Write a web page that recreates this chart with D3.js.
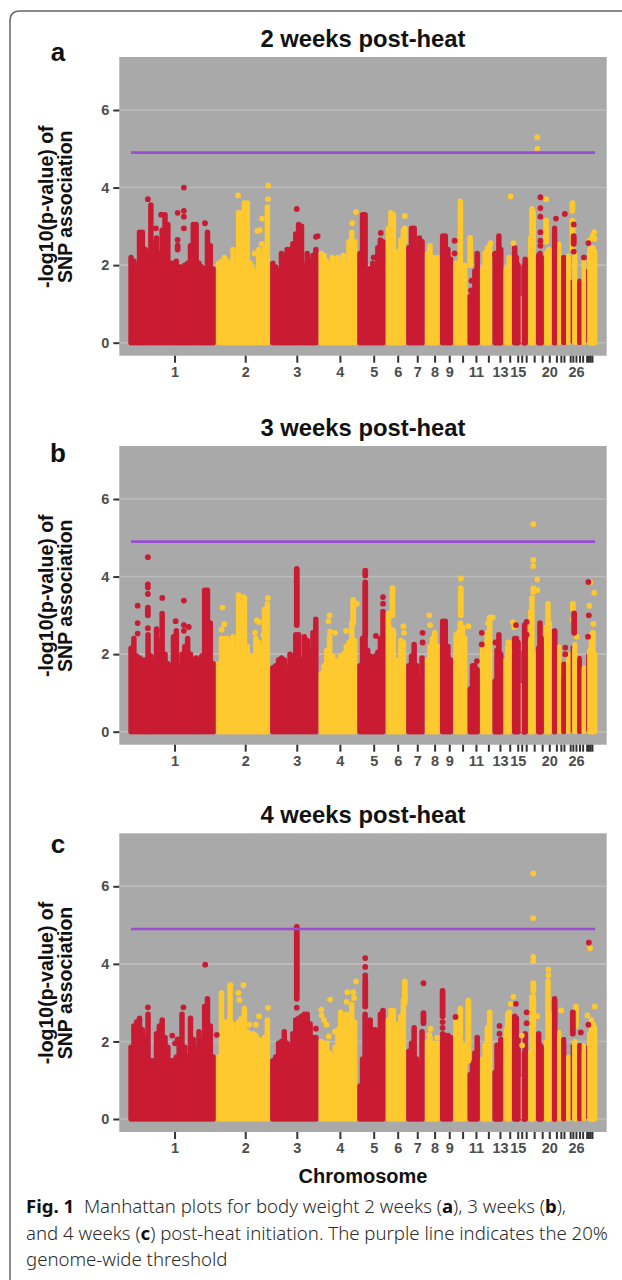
<!DOCTYPE html>
<html>
<head>
<meta charset="utf-8">
<script src="https://cdn.jsdelivr.net/npm/d3@7"></script>
<style>
  html, body { margin: 0; padding: 0; background: #fff; }
  svg { display: block; }
  text { font-family: "Liberation Sans", sans-serif; }
  .caption { font-family: "Noto Sans", sans-serif; font-size: 18.6px; font-weight: 300; fill: #2a2a2a; }
  .caption .strong { font-weight: 700; fill: #111; }
  .axis text { font-size: 14.5px; font-weight: 700; fill: #4d4d4d; }
  .axis line { stroke: #333; stroke-width: 2; }
  .axis path { display: none; }
</style>
</head>
<body>
<div id="chart"></div>
<script>
// genome position (about Mb) where each chromosome block ends, chr16 and chr29 are slivers
var chrEnds = [197,319,428,515,579,625,667,701,731,763,791,819,844,863,883,884,899,917,935,953,965,974,985,995,999,1010,1020,1030,1032,1055];
var tickPos = [104,263,379,476,552,606,650,689,722,752,782,810,836,858,876,885,895,913,931,947,963,973,980,994,1000,1007,1015,1022,1031,1035,1039,1043];
var tickLabels = ["1","2","3","4","5","6","7","8","9","","11","","13","","15","","","","","20","","","","","","26","","","","","",""];
var yTicks = [0,2,4,6];
var threshold = 4.9;
var thresholdSpan = [6,1050];

// top of the solid mass, read left to right per chromosome
var skyA = [
  [2.2,2.1,2.0,2.85,2.85,2.4,2.3,3.55,2.55,2.7,2.3,2.9,3.3,3.05,2.05,2.05,2.1,1.95,1.95,2.0,2.05,2.5,3.05,3.05,2.05,1.95,1.9,2.85,2.5,1.9],
  [2.05,2.1,2.2,2.1,2.05,2.4,1.95,3.35,3.35,3.6,3.6,2.05,1.9,1.7,2.4,2.25,2.45,3.5],
  [2.05,1.95,1.85,2.3,2.25,2.4,2.4,2.55,2.8,3.05,3.0,2.0,2.3,2.1,2.25,2.4],
  [2.3,2.25,2.1,2.0,2.2,1.95,2.2,2.0,2.25,2.0,2.6,2.85,2.6],
  [2.3,3.3,3.3,1.9,1.9,2.05,1.9,2.45,2.65,2.6],
  [2.95,3.35,3.3,2.0,2.35,2.65,2.9],
  [2.45,2.95,2.95,2.3,2.7,2.6],
  [2.3,2.5,2.2,1.85,2.2],
  [2.75,2.75,2.4,2.15],
  [2.05,2.05,3.65,2.0,2.0],
  [1.2,1.25,1.85,2.3],
  [1.9,2.3,2.45,2.5],
  [2.3,2.3,2.75,2.4],
  [1.9,1.9,2.2],
  [2.45,2.2,2.0],
  [],
  [1.95,2.0,2.15],
  [2.7,3.45,3.35],
  [2.25,2.3,2.2],
  [2.3,2.35,2.4],
  [2.95,2.6],
  [2.55,2.2],
  [2.2,2.2],
  [2.2,2.25],
  [1.6],
  [2.3,2.3],
  [1.55,1.6],
  [2.05,2.2],
  [],
  [2.4,2.45,2.45,2.35]
];
var skyB = [
  [2.15,2.4,1.95,1.9,1.85,1.85,2.5,1.95,1.85,2.65,2.35,3.05,2.0,1.75,1.7,2.45,2.6,1.7,2.0,2.2,2.4,2.0,1.85,1.9,1.85,1.95,3.65,3.65,2.8,1.75],
  [1.75,2.4,2.4,2.4,2.3,2.45,2.1,3.4,3.3,3.45,2.2,1.95,1.95,2.4,2.3,2.2,3.15,3.3],
  [1.65,1.7,1.85,1.9,1.85,1.65,2.0,1.95,2.5,2.5,1.85,2.45,2.35,2.1,2.55,2.9],
  [1.5,1.7,2.1,2.45,1.95,1.85,1.75,1.95,2.0,2.2,2.3,2.8,2.35],
  [1.7,2.4,2.45,2.1,1.95,1.9,1.95,2.05,2.4,3.1],
  [3.05,2.65,2.6,1.85,1.6,2.35,2.3],
  [1.7,1.95,2.25,1.7,1.35,1.9],
  [1.85,2.2,2.4,2.55,2.2],
  [2.85,2.85,2.2,1.85],
  [2.5,2.55,2.8,2.7,2.4],
  [1.1,1.7,1.7,1.6],
  [2.2,2.25,2.55,2.95],
  [1.3,2.1,2.5,2.0],
  [1.85,2.2,2.3],
  [2.4,2.4,2.3],
  [],
  [2.05,2.75,2.45],
  [3.1,3.45,2.0],
  [2.15,2.8,2.4],
  [2.7,3.3,2.8],
  [2.6,2.6],
  [2.2,2.2],
  [1.35,1.75],
  [2.0,2.0],
  [2.2],
  [2.25,2.1],
  [1.9,1.85],
  [1.65,1.65],
  [],
  [2.1,2.5,2.5,2.0]
];
var skyC = [
  [1.85,2.4,2.5,2.6,2.3,2.1,2.7,1.5,1.5,2.2,2.4,2.55,2.1,1.85,1.5,1.5,1.6,1.95,2.7,1.85,1.6,2.6,2.05,1.8,2.25,2.05,2.9,3.1,2.4,1.6],
  [1.6,3.25,2.5,2.5,3.45,2.45,2.15,2.5,2.6,2.85,2.25,2.2,2.2,2.15,2.05,2.0,2.1,2.55],
  [1.5,1.6,1.95,2.0,2.25,1.95,1.85,2.2,2.55,2.6,2.65,2.7,2.7,2.45,2.1,2.1],
  [2.0,1.9,1.95,1.7,1.6,1.85,2.3,2.75,2.65,2.7,2.5,2.95,2.5],
  [0.85,1.55,2.7,2.45,2.55,2.3,2.3,2.2,2.7,2.8],
  [2.55,2.8,2.8,2.3,2.45,2.65,3.07],
  [1.75,1.95,2.35,1.55,1.35,2.25],
  [2.0,2.1,1.9,1.95,1.95],
  [2.2,2.15,2.15,2.1],
  [2.55,2.55,2.85,1.85,1.9],
  [1.15,1.45,1.7,2.1],
  [1.55,1.9,2.35,2.75],
  [1.2,1.9,1.9,2.05],
  [2.3,2.7,2.75],
  [2.65,2.6,2.1],
  [],
  [1.1,1.7,2.2],
  [1.7,3.15,2.3],
  [2.2,1.9,1.85],
  [2.0,3.55,2.7],
  [3.1,3.05],
  [2.25,2.1],
  [2.05,2.05],
  [1.6,1.6],
  [1.9],
  [2.0,2.0],
  [1.9,1.9],
  [1.75,1.9],
  [],
  [2.2,2.55,2.45,2.35]
];

// separated points and runs above the mass: [pos, low, high], a lone point has no high
var goldA = [[247,3.8],[315,4.05],[314,3.7],[301,3.2],[296,2.9],[290,2.88],[300,2.55],[284,2.3],
  [512,3.37],[504,3.08],[622,3.27],[622,2.6,2.95],[815,2.57],[866,2.57],[860,3.77],[920,5.3],[920,5.0],
  [940,3.7],[940,2.6,3.15],[769,2.0,2.7],[999,3.4,3.6],[999,2.4,3.15],[1048,2.85],[1044,2.75],[1049,2.68],[1037,2.63]];
var redA = [[125,4.0],[111,3.35],[125,3.4],[125,3.25],[125,2.95],[111,2.65],[111,2.4,2.5],[62,2.95],[44,3.7],[172.5,3.08],[74,3.3],
  [379,3.45],[426,2.75],[422,2.73],[552,2.2],[568,2.83],[734,2.63],[734,2.3],[772,1.6],[771,1.35],[825,2.27],
  [927,3.75],[927,3.47],[927,3.25],[927,2.85],[927,2.63],[927,2.5],[962,3.2],[982,3.32],[1002,3.05],[1002,2.55,2.75],[1002,2.35],[1025,2.2],[1035,2.57]];
var goldB = [[212,3.2],[216,2.77],[210,2.63],[248,3.52],[259,3.47],[289,2.87],[294,2.83],[285,2.55],[314,3.45],[304,2.5],
  [453,3.0],[450,2.85],[465,2.55],[454,2.58],[490,2.6],[506,2.8,3.4],[514,3.3],[594,3.0,3.7],[619,2.72],[620,2.55],
  [677,3.0],[679,2.75],[748,3.0,3.7],[748,3.95],[765,2.72],[809,2.8],[820,2.95],[865,2.82],[868,2.7],[857,2.07],[855,2.3],
  [911,5.35],[911,4.43],[911,4.27],[920,3.93],[911,3.7],[920,3.65],[911,3.6],[1000,3.15,3.3],[1000,2.9],[1009,2.45],
  [1039,3.86],[1048,3.58],[1037,3.25],[1046,2.78],[1045,2.55]];
var redB = [[44,4.5],[44,3.8],[44,3.72],[44,3.55],[44,3.0,3.2],[44,2.67],[21,3.25],[21,2.8],[21,2.53],[76.5,3.45],[125,3.38],[106.5,2.85],[125,2.75],[136,2.7],[125,2.6],[64,2.62],
  [379,2.75,4.2],[533,2.5,3.85],[533,4.03,4.15],[573,3.47],[573,3.3],[557,2.47],[662,2.55],[662,2.3],
  [784,1.82],[795,2.55],[795,2.25],[826,2.3],[872,2.75],[896,2.83],[896,2.5],[983,2.17],[983,2.0],[1003,2.55,3.05],[1035,3.86],[1036,3.0],[1034,2.45]];
var goldC = [[230,3.45],[259,3.45],[247.6,3.25],[250,3.07],[294,2.65],[287,2.43],[272,2.43],[314,2.87],
  [434,2.82],[435,2.67],[440,2.55],[446,2.43],[451,2.13],[465,2.25],[454,3.08],[493,3.27],[491,3.02],[506,3.27],[508,3.12],[512,3.55],
  [622,3.0,3.55],[680,2.32],[677,2.17],[695,2.1],[765,1.5,3.05],[866,3.15],[860,2.97],[886,1.9],[885,2.15],
  [911,6.33],[911,5.18],[911,4.18],[911,4.07],[911,3.3,3.5],[911,2.4,3.15],[920,2.65],[945,3.85],[945,3.7],[974,2.8],[1007,2.4,2.9],
  [1049,2.9],[1033,2.67],[1039,4.4]];
var redC = [[173,3.98],[44,2.88],[124,2.88],[99,2.15],[105,1.95],[111,2.05],[199,2.17],
  [379,3.1,4.95],[379,2.87],[422,2.33],[533,2.9,3.6],[533,4.15],[533,3.92],[533,3.7],[664,3.5],[664,2.47,2.73],
  [707,2.65,3.3],[707,2.5],[707,2.35],[736,2.63],[835,2.4],[835,2.2],[872,2.97],[896,2.75],[896,2.47],[1000,2.2,2.75],[1018,2.23],[1036,4.55],[1035,2.43]];

// the two chromosomes too thin to show more than one pixel
var thinA = [[884,1.2],[1031,1.9]];
var thinB = [[884,1.25],[1031,2.0]];
var thinC = [[884,1.1],[1031,1.9]];

var panelTitles = ["2 weeks post-heat","3 weeks post-heat","4 weeks post-heat"];
var panelLetters = ["a","b","c"];
var letterBaselines = [61,462,853];

var RED = "#c91b32", GOLD = "#fec82f", PURPLE = "#9a4fd3";
var width = 622, height = 1280;
var plotLeft = 119.3, plotRight = 606.7, plotH = 298.7;
var pointSize = 5.5;

var svg = d3.select("#chart").append("svg").attr("width", width).attr("height", height);

// card outline, open at the right and at the bottom
svg.append("path")
    .attr("d", "M10,1280 V21 Q10,11 20,11 H622")
    .attr("fill", "none").attr("stroke", "#666").attr("stroke-width", 1.5);

var x = d3.scaleLinear().domain([0, 1055]).range([128.3, 597.3]);

function chrOf(pos) { return d3.bisectLeft(chrEnds, pos); }
function colorOf(chr) { return chr % 2 ? GOLD : RED; }

function drawPanel(i, zeroY, sky, gold, red, thin) {
    var y = d3.scaleLinear().domain([0, 6]).range([zeroY, zeroY - 232.7]);
    var top = zeroY - 285.7;
    var g = svg.append("g");

    g.append("rect").attr("x", plotLeft).attr("y", top)
        .attr("width", plotRight - plotLeft).attr("height", plotH).attr("fill", "#a9a9a9");

    g.selectAll(".grid").data(yTicks).enter().append("line")
        .attr("x1", plotLeft).attr("x2", plotRight)
        .attr("y1", y).attr("y2", y)
        .attr("stroke", "#bdbdbd").attr("stroke-width", 1.6);

    // solid mass of each chromosome, stacks of points are drawn as round capped lines
    sky.forEach(function(tops, c) {
        if (!tops.length) return;
        var start = c ? chrEnds[c - 1] : 0;
        var wide = x(chrEnds[c]) - x(start);
        var size = Math.min(pointSize, wide);
        var cols = d3.scaleLinear().domain([0, Math.max(tops.length - 1, 1)])
            .range([x(start) + size / 2, x(chrEnds[c]) - size / 2]);
        g.append("g").selectAll("line").data(tops).enter().append("line")
            .attr("x1", function(d, k) { return cols(k); })
            .attr("x2", function(d, k) { return cols(k); })
            .attr("y1", y(0)).attr("y2", y)
            .attr("stroke", colorOf(c)).attr("stroke-width", size).attr("stroke-linecap", "round");
    });

    g.selectAll(".thin").data(thin).enter().append("line")
        .attr("x1", function(d) { return x(d[0]); }).attr("x2", function(d) { return x(d[0]); })
        .attr("y1", y(0)).attr("y2", function(d) { return y(d[1]); })
        .attr("stroke", function(d) { return colorOf(chrOf(d[0])); }).attr("stroke-width", 1);

    function spikes(rows, color) {
        g.append("g").selectAll("line").data(rows).enter().append("line")
            .attr("x1", function(d) { return x(d[0]); }).attr("x2", function(d) { return x(d[0]); })
            .attr("y1", function(d) { return y(d[1]); })
            .attr("y2", function(d) { return y(d.length > 2 ? d[2] : d[1]); })
            .attr("stroke", color).attr("stroke-width", pointSize + 0.3).attr("stroke-linecap", "round");
    }
    spikes(gold, GOLD);
    spikes(red, RED);

    g.append("line")
        .attr("x1", x(thresholdSpan[0])).attr("x2", x(thresholdSpan[1]))
        .attr("y1", y(threshold)).attr("y2", y(threshold))
        .attr("stroke", PURPLE).attr("stroke-width", 2.6);

    g.append("g").attr("class", "axis")
        .attr("transform", "translate(" + plotLeft + ",0)")
        .call(d3.axisLeft(y).tickValues(yTicks).tickFormat(d3.format("d")).tickSize(6).tickPadding(4));

    g.append("g").attr("class", "axis")
        .attr("transform", "translate(0," + (top + plotH) + ")")
        .call(d3.axisBottom(x).tickValues(tickPos)
            .tickFormat(function(d, k) { return tickLabels[k]; })
            .tickSize(7).tickPadding(4));

    g.append("text").attr("x", 363).attr("y", top - 10)
        .attr("text-anchor", "middle").attr("font-size", 23.8).attr("font-weight", 700)
        .attr("fill", "#111").text(panelTitles[i]);

    g.append("text").attr("x", 58).attr("y", letterBaselines[i])
        .attr("text-anchor", "middle").attr("font-size", 26).attr("font-weight", 700)
        .attr("fill", "#111").text(panelLetters[i]);

    var midY = zeroY - 136;
    ["-log10(p-value) of", "SNP association"].forEach(function(line, k) {
        g.append("text")
            .attr("transform", "translate(" + (53 + k * 19) + "," + midY + ") rotate(-90)")
            .attr("text-anchor", "middle").attr("font-size", 19.5).attr("font-weight", 700)
            .attr("fill", "#111").text(line);
    });
}

drawPanel(0, 342.7, skyA, goldA, redA, thinA);
drawPanel(1, 731.7, skyB, goldB, redB, thinB);
drawPanel(2, 1119, skyC, goldC, redC, thinC);

svg.append("text").attr("x", 363).attr("y", 1183)
    .attr("text-anchor", "middle").attr("font-size", 20).attr("font-weight", 700)
    .attr("fill", "#111").text("Chromosome");

// caption, bold parts marked per run
var captionLines = [
  [["Fig. 1",1],["  Manhattan plots for body weight 2 weeks (",0],["a",1],["), 3 weeks (",0],["b",1],["),",0]],
  [["and 4 weeks (",0],["c",1],[") post-heat initiation. The purple line indicates the 20%",0]],
  [["genome-wide threshold",0]]
];
var captionY = [1213, 1240, 1266];
captionLines.forEach(function(runs, k) {
    var t = svg.append("text").attr("class", "caption").attr("x", 26).attr("y", captionY[k]).style("white-space", "pre");
    runs.forEach(function(r) {
        t.append("tspan").attr("class", r[1] ? "strong" : null).text(r[0]);
    });
});
</script>
</body>
</html>
